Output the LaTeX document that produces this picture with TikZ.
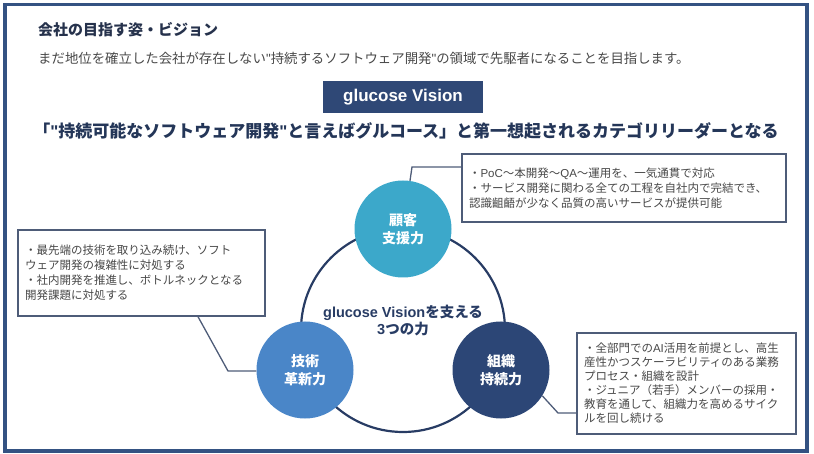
\documentclass[tikz,border=0pt]{standalone}
\usepackage{fontspec}
\setmainfont{Noto Sans CJK JP}[Ligatures=ResetAll]
\newfontfamily\latfont{Liberation Sans}
\newcommand\dq{{\latfont"}}
\usetikzlibrary{positioning,calc}
\definecolor{framec}{RGB}{52,82,130}
\definecolor{visc}{RGB}{47,72,118}
\definecolor{titlec}{RGB}{38,50,76}
\definecolor{tagc}{RGB}{36,54,88}
\definecolor{graytxt}{RGB}{72,72,72}
\definecolor{ringc}{RGB}{40,60,100}
\definecolor{custc}{RGB}{60,168,202}
\definecolor{techc}{RGB}{74,134,200}
\definecolor{orgc}{RGB}{44,70,118}
\definecolor{linec}{RGB}{78,92,120}

\begin{document}
\begin{tikzpicture}[x=1pt, y=-1pt,
  ttl/.style={font=\fontsize{15}{18}\selectfont\bfseries, text=titlec, inner sep=0pt},
  subt/.style={font=\fontsize{13.4}{16}\selectfont, text=graytxt, inner sep=0pt},
  visbox/.style={fill=visc, text=white, minimum width=160pt, minimum height=32pt, font=\fontsize{17}{20}\selectfont\latfont\bfseries},
  tag/.style={font=\fontsize{17}{20}\selectfont\bfseries, text=tagc, inner sep=0pt},
  ring/.style={circle, draw=ringc, line width=2.2pt, minimum size=204pt},
  pw/.style={circle, minimum size=97pt, inner sep=0pt, text=white, align=center, font=\fontsize{14}{18}\selectfont\bfseries},
  midtxt/.style={align=center, text=ringc, font=\fontsize{14.5}{17}\selectfont\bfseries},
  callbox/.style={draw=linec, line width=1.4pt, fill=white, align=left, inner xsep=7pt, text=graytxt, font=\fontsize{11.5}{15}\selectfont},
  callline/.style={draw=linec, line width=1.3pt},
  framebox/.style={draw=framec, line width=3.5pt}
]
\useasboundingbox (0,0) rectangle (814,454);
\draw[framebox] (5,4.5) rectangle (807,451);

\node[ttl, anchor=west] (title) at (38,30) {会社の目指す姿・ビジョン};
\node[subt, anchor=west] (lead) at (38,58) {まだ地位を確立した会社が存在しない\dq 持続するソフトウェア開発\dq の領域で先駆者になることを目指します。};
\node[visbox] (vis) at (403,97) {glucose Vision};
\node[tag] (tagl) at (406,131) {「\dq 持続可能なソフトウェア開発\dq と言えばグルコース」と第一想起されるカテゴリリーダーとなる};

\node[ring] (ring) at (403,330) {};
\node[midtxt] (mid) at (403,321) {{\latfont glucose Vision}を支える\\{\latfont 3}つの力};
\node[pw, fill=custc] (ncust) at (403,229) {顧客\\支援力};
\node[pw, fill=techc] (ntech) at (305,370) {技術\\革新力};
\node[pw, fill=orgc] (norg) at (501,370) {組織\\持続力};

\node[callbox, text width=310pt, minimum height=68pt] (bcust) at (624,188) {・{\latfont PoC}〜本開発〜{\latfont QA}〜運用を、一気通貫で対応\\・サービス開発に関わる全ての工程を自社内で完結でき、\\認識齟齬が少なく品質の高いサービスが提供可能};
\node[callbox, text width=233pt, minimum height=86pt] (btech) at (141.5,273) {・最先端の技術を取り込み続け、ソフト\\ウェア開発の複雑性に対処する\\・社内開発を推進し、ボトルネックとなる\\開発課題に対処する};
\node[callbox, text width=205pt, minimum height=101pt, font=\fontsize{11.5}{14}\selectfont] (borg) at (686.5,383.5) {・全部門での{\latfont AI}活用を前提とし、高生\\産性かつスケーラビリティのある業務\\プロセス・組織を設計\\・ジュニア（若手）メンバーの採用・\\教育を通して、組織力を高めるサイク\\ルを回し続ける};

\coordinate (kc) at (412,167);
\coordinate (kt) at (228,371);
\coordinate (ko) at (558,413);
\draw[callline] (kc -| bcust.west) -- (kc) -- (ncust);
\draw[callline] ([xshift=56.5pt]btech.south) -- (kt) -- (kt -| ntech.west);
\draw[callline] (norg.-32) -- (ko) -- (ko -| borg.west);

\end{tikzpicture}
\end{document}
